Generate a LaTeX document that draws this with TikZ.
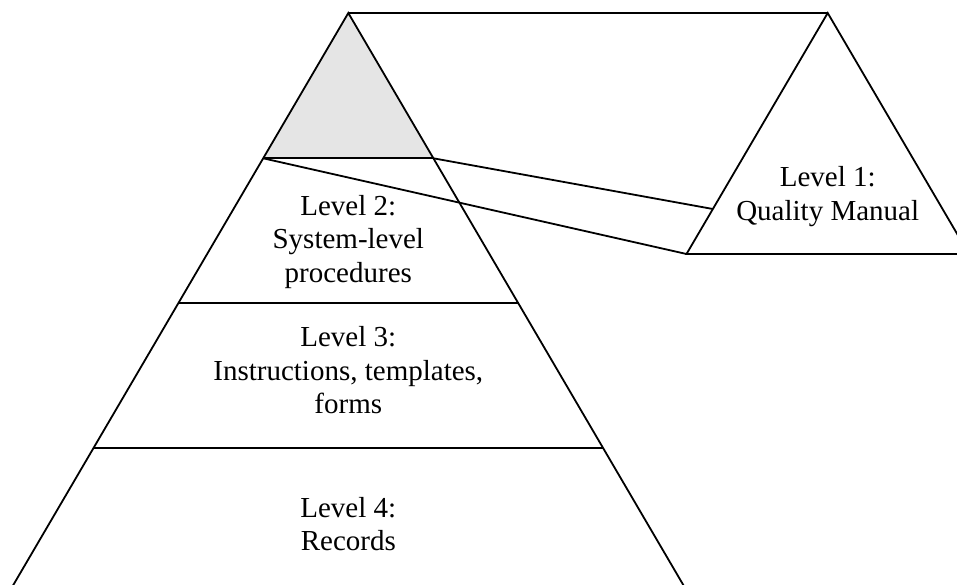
\documentclass[tikz,border=0pt]{standalone}
\usepackage{fontspec}
\setmainfont{Liberation Serif}
\begin{document}
\begin{tikzpicture}[x=1pt,y=-1pt,
  rule/.style={draw=black, line width=1.8pt},
  lvltext/.style={align=center, inner sep=0pt, font=\fontsize{29}{33.4}\selectfont}]
\useasboundingbox (0,0) rectangle (957,585);
\clip (0,0) rectangle (957,585);
% big pyramid
\coordinate (A) at (348.3,13);
\coordinate (GL) at (263.2,158.3);
\coordinate (GR) at (433.4,158.3);
\coordinate (L3L) at (178.3,303.3);
\coordinate (L3R) at (518.3,303.3);
\coordinate (L4L) at (93.3,448.3);
\coordinate (L4R) at (603.3,448.3);
\coordinate (BL) at (4.5,600);
\coordinate (BR) at (692.1,600);
% small pyramid
\coordinate (B) at (827.7,13);
\coordinate (SL) at (686.5,254);
\coordinate (SR) at (968.9,254);
\coordinate (SM) at (712.9,209);
\fill[gray!20] (A) -- (GL) -- (GR) -- cycle;
\draw[rule] (BL) -- (A) -- (BR);
\draw[rule] (GL) -- (GR);
\draw[rule] (L3L) -- (L3R);
\draw[rule] (L4L) -- (L4R);
\draw[rule] (A) -- (B);
\draw[rule] (SL) -- (B) -- (SR) -- cycle;
\draw[rule] (GR) -- (SM);
\draw[rule] (GL) -- (SL);
\node[lvltext] (t1) at (827.7,196.6) {Level 1:\\Quality Manual};
\node[lvltext] (t2) at (348.3,241.7) {Level 2:\\System-level\\procedures};
\node[lvltext] (t3) at (348.3,370.2) {Level 3:\\Instructions, templates,\\forms};
\node[lvltext] (t4) at (348.3,524.1) {Level 4:\\Records};
\end{tikzpicture}
\end{document}
